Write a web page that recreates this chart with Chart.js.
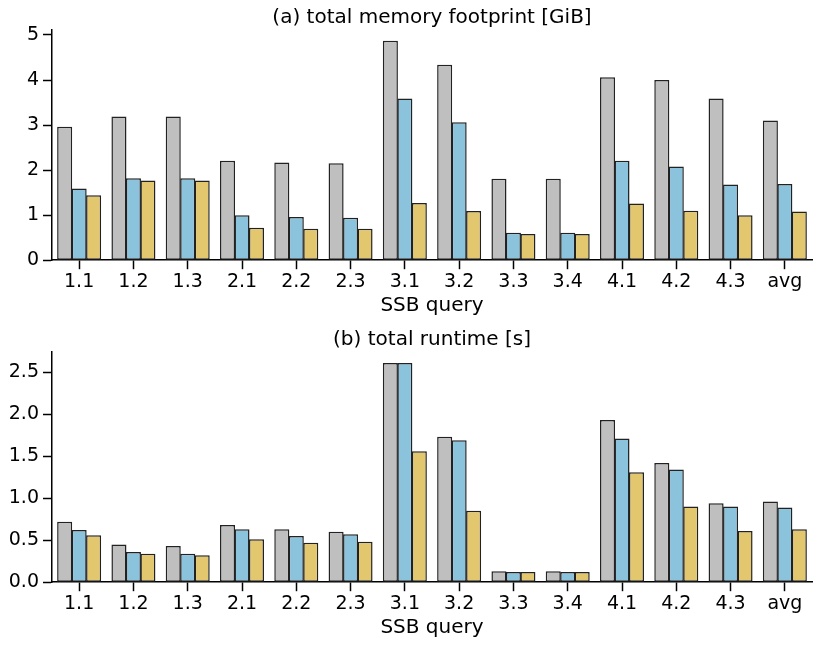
<!DOCTYPE html>
<html>
<head>
<meta charset="utf-8">
<script src="https://cdn.jsdelivr.net/npm/chart.js@4/dist/chart.umd.min.js"></script>
<style>
  html, body { margin: 0; padding: 0; background: #fff; }
  canvas { display: block; }
</style>
</head>
<body>
<canvas id="c1" width="830" height="322"></canvas>
<canvas id="c2" width="830" height="323"></canvas>
<script>
const categories = ["1.1","1.2","1.3","2.1","2.2","2.3","3.1","3.2","3.3","3.4","4.1","4.2","4.3","avg"];

// (a) total memory footprint [GiB]
const memGray   = [2.96, 3.19, 3.19, 2.21, 2.17, 2.15, 4.87, 4.34, 1.81, 1.81, 4.06, 4.00, 3.59, 3.10];
const memBlue   = [1.59, 1.82, 1.82, 1.00, 0.96, 0.94, 3.59, 3.06, 0.61, 0.61, 2.21, 2.08, 1.68, 1.69];
const memYellow = [1.44, 1.77, 1.77, 0.72, 0.70, 0.70, 1.27, 1.09, 0.58, 0.58, 1.26, 1.10, 1.00, 1.08];
const memTicks  = [0, 1, 2, 3, 4, 5];

// (b) total runtime [s]
const rtGray   = [0.72, 0.45, 0.43, 0.68, 0.63, 0.60, 2.61, 1.73, 0.13, 0.13, 1.93, 1.42, 0.94, 0.96];
const rtBlue   = [0.62, 0.36, 0.34, 0.63, 0.55, 0.57, 2.61, 1.69, 0.12, 0.12, 1.71, 1.34, 0.90, 0.89];
const rtYellow = [0.56, 0.34, 0.32, 0.51, 0.47, 0.48, 1.56, 0.85, 0.12, 0.12, 1.31, 0.90, 0.61, 0.63];
const rtTicks  = [0, 0.5, 1.0, 1.5, 2.0, 2.5];

const FONT = "'DejaVu Sans', sans-serif";
const COLORS = ["#bfbfbf", "#8bc3dd", "#e3c76f"];

function makeChart(id, title, series, ticks, yMax, decimals, padBottom) {
  const ds = series.map((d, i) => ({
    data: d,
    backgroundColor: COLORS[i],
    borderColor: "#222222",
    borderWidth: 1.5,
    borderSkipped: false,
    categoryPercentage: 0.8,
    barPercentage: 1.04
  }));
  return new Chart(document.getElementById(id), {
    type: "bar",
    data: { labels: categories, datasets: ds },
    options: {
      responsive: false,
      animation: false,
      devicePixelRatio: 1,
      layout: { padding: { left: 0, right: 18, top: 6, bottom: padBottom } },
      plugins: {
        legend: { display: false },
        tooltip: { enabled: false },
        title: {
          display: true,
          text: title,
          fullSize: false,
          color: "#000",
          font: { family: FONT, size: 20, weight: "normal", lineHeight: 1.2 },
          padding: { top: 0, bottom: 0 }
        }
      },
      scales: {
        x: {
          type: "category",
          offset: true,
          grid: { offset: false, drawOnChartArea: false, drawTicks: true, tickLength: 9, tickWidth: 1.5, tickColor: "#000" },
          border: { display: true, color: "#000", width: 1.5 },
          ticks: { color: "#000", font: { family: FONT, size: 19, lineHeight: 1.2 }, padding: 1, maxRotation: 0, autoSkip: false },
          title: { display: true, text: "SSB query", color: "#000", font: { family: FONT, size: 20, lineHeight: 1.2 }, padding: { top: 0, bottom: 0 } }
        },
        y: {
          min: 0,
          max: yMax,
          afterFit: (s) => { s.width = 52; },
          afterBuildTicks: (s) => { s.ticks = ticks.map(v => ({ value: v })); },
          grid: { drawOnChartArea: false, drawTicks: true, tickLength: 9, tickWidth: 1.5, tickColor: "#000" },
          border: { display: true, color: "#000", width: 1.5 },
          ticks: {
            color: "#000",
            font: { family: FONT, size: 19 },
            padding: 4,
            callback: (v) => Number(v).toFixed(decimals)
          }
        }
      }
    }
  });
}

makeChart("c1", "(a) total memory footprint [GiB]", [memGray, memBlue, memYellow], memTicks, 5.11, 0, 4);
makeChart("c2", "(b) total runtime [s]", [rtGray, rtBlue, rtYellow], rtTicks, 2.74, 1, 5);
</script>
</body>
</html>
